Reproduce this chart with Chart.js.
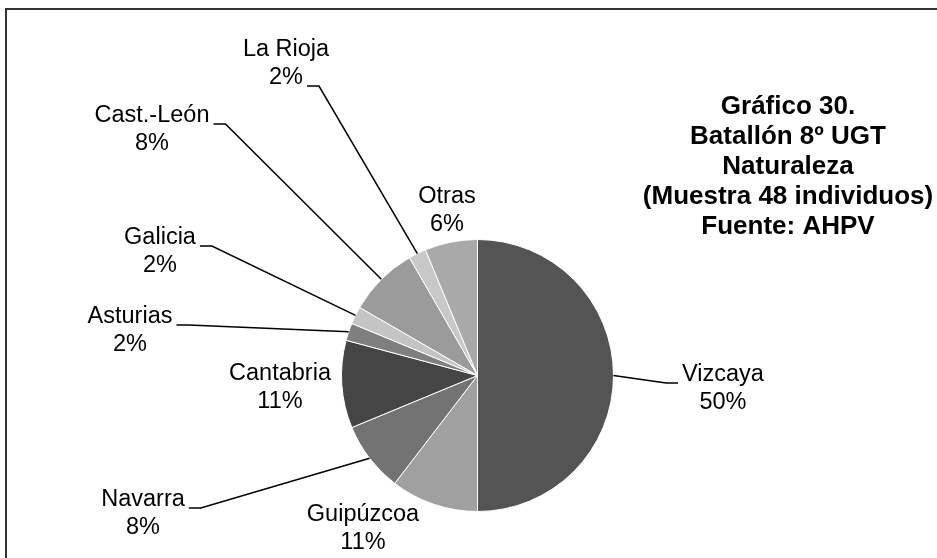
<!DOCTYPE html>
<html>
<head>
<meta charset="utf-8">
<script src="https://cdn.jsdelivr.net/npm/chart.js@4/dist/chart.umd.min.js"></script>
<style>
    html, body { margin: 0; padding: 0; background: #fff; }
    canvas { display: block; }
</style>
</head>
<body>
<canvas id="pieNaturaleza" width="937" height="558"></canvas>
<script>
// datos del gráfico
const regions = ['Vizcaya', 'Guipúzcoa', 'Navarra', 'Cantabria', 'Asturias', 'Galicia', 'Cast.-León', 'La Rioja', 'Otras'];
const individuals = [24, 5, 4, 5, 1, 1, 4, 1, 3];
const shareLabels = ['50%', '11%', '8%', '11%', '2%', '2%', '8%', '2%', '6%'];
const titleLines = ['Gráfico 30.', 'Batallón 8º UGT', 'Naturaleza', '(Muestra 48 individuos)', 'Fuente: AHPV'];

const sliceColors = ['#545454', '#a0a0a0', '#737373', '#454545', '#7f7f7f', '#c4c4c4', '#9b9b9b', '#c8c8c8', '#a9a9a9'];

// dónde va cada etiqueta (centro del texto, fila con guía, lado de la guía)
const labelSpots = [
    { x: 723, y: 375, leader: 'left', row: 0 },
    { x: 363, y: 515, leader: null },
    { x: 143, y: 500, leader: 'right', row: 0 },
    { x: 280, y: 374, leader: null },
    { x: 130, y: 317, leader: 'right', row: 0 },
    { x: 160, y: 238, leader: 'right', row: 0 },
    { x: 152, y: 116, leader: 'right', row: 0 },
    { x: 286, y: 50, leader: 'right', row: 1 },
    { x: 447, y: 197, leader: null }
];

const labelFont = '23.5px "Liberation Sans", Arial, sans-serif';
const titleFont = 'bold 26px "Liberation Sans", Arial, sans-serif';
const lineGap = 28;

const labelsPlugin = {
    id: 'labelsPlugin',
    afterDraw(chart) {
        const ctx = chart.ctx;
        const arcs = chart.getDatasetMeta(0).data;

        ctx.save();
        // marco
        ctx.strokeStyle = '#333';
        ctx.lineWidth = 2;
        ctx.strokeRect(6, 9, 1200, 800);

        // título
        ctx.fillStyle = '#000';
        ctx.font = titleFont;
        ctx.textAlign = 'center';
        ctx.textBaseline = 'middle';
        titleLines.forEach((line, i) => ctx.fillText(line, 788, 107 + i * 30));

        // etiquetas y guías
        ctx.font = labelFont;
        arcs.forEach((arc, i) => {
            const spot = labelSpots[i];
            const rows = [regions[i], shareLabels[i]];
            rows.forEach((t, r) => ctx.fillText(t, spot.x, spot.y + r * lineGap));

            if (!spot.leader) return;
            const mid = (arc.startAngle + arc.endAngle) / 2;
            const ex = arc.x + Math.cos(mid) * arc.outerRadius;
            const ey = arc.y + Math.sin(mid) * arc.outerRadius;
            const w = ctx.measureText(rows[spot.row]).width;
            const sy = spot.y + spot.row * lineGap + 8;
            let sx0, sx1;
            if (spot.leader === 'right') {
                sx0 = spot.x + w / 2 + 4;
                sx1 = sx0 + 12;
            } else {
                sx0 = spot.x - w / 2 - 4;
                sx1 = sx0 - 12;
            }
            ctx.strokeStyle = '#000';
            ctx.lineWidth = 1.5;
            ctx.beginPath();
            ctx.moveTo(sx0, sy);
            ctx.lineTo(sx1, sy);
            ctx.lineTo(ex, ey);
            ctx.stroke();
        });
        ctx.restore();
    }
};

new Chart(document.getElementById('pieNaturaleza'), {
    type: 'pie',
    data: {
        labels: regions,
        datasets: [{
            data: individuals,
            backgroundColor: sliceColors,
            borderColor: '#ffffff',
            borderWidth: 1
        }]
    },
    options: {
        responsive: false,
        animation: false,
        layout: { padding: { left: 341, right: 323, top: 239, bottom: 46 } },
        plugins: { legend: { display: false }, tooltip: { enabled: false } }
    },
    plugins: [labelsPlugin]
});
</script>
</body>
</html>
